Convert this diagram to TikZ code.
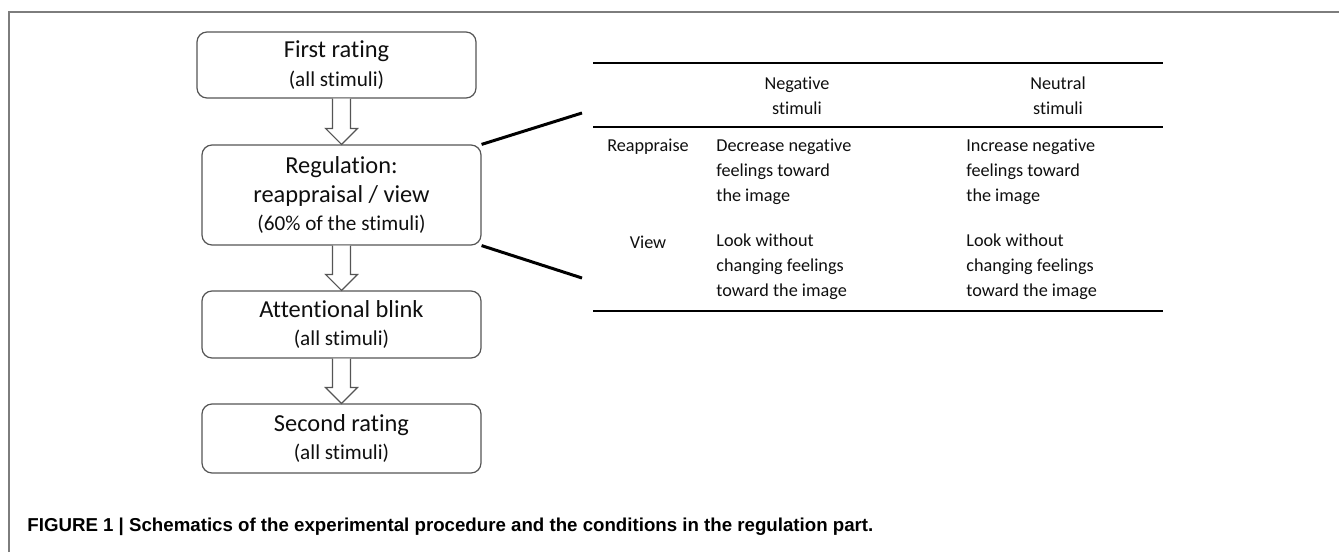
\documentclass[tikz,border=0pt]{standalone}
\usepackage{fontspec}
\setmainfont{Carlito}[Ligatures=NoCommon]
\newfontfamily\CaptionFont{Liberation Sans}
\usepackage{tikz}
\usetikzlibrary{calc}
\usepackage{xcolor}
\definecolor{ColBox}{RGB}{85,85,85}
\definecolor{ColFrame}{RGB}{125,125,125}
\definecolor{ColText}{RGB}{15,15,15}
\newcommand{\SmallLine}{\fontsize{10.6}{12.8}\selectfont}
\tikzstyle{StepBox}=[rectangle,rounded corners=5pt,draw=ColBox,line width=.6pt,
minimum width=139.5pt,inner sep=0pt,align=center,text=ColText,
font=\fontsize{12.2}{14.2}\selectfont]
\tikzstyle{BlockArrow}=[draw=ColBox,line width=.6pt,fill=white,line join=miter]
\tikzstyle{TableCell}=[inner sep=0pt,text=ColText,font=\fontsize{9.1}{12.5}\selectfont]
\tikzstyle{TableRule}=[black,line width=1pt]
\tikzstyle{ZoomLine}=[black,line width=1.5pt]
\tikzstyle{FrameLine}=[ColFrame,line width=.75pt]
\newcommand{\DownArrow}[2]{%
  \draw[BlockArrow] let \p1=(#1.south),\p2=(#2.north) in
    (\x2-4.5pt,\y1)--(\x2-4.5pt,\y2+8pt)--(\x2-8pt,\y2+8pt)--(\x2,\y2)
    --(\x2+8pt,\y2+8pt)--(\x2+4.5pt,\y2+8pt)--(\x2+4.5pt,\y1);}

\begin{document}
\begin{tikzpicture}[x=.5pt,y=-.5pt]
        \useasboundingbox(0,0)rectangle(1339,552);
        \draw[FrameLine](9,552)--(9,12)--(1339,12);
        % procedure
        \node[StepBox,minimum height=33pt](first)at(336.5,65){First rating\\{\SmallLine(all stimuli)}};
        \node[StepBox,minimum height=50pt](reg)at(341.5,195){Regulation:\\reappraisal / view\\{\SmallLine(60\% of the stimuli)}};
        \node[StepBox,minimum height=33.5pt](blink)at(341.5,324.5){Attentional blink\\{\SmallLine(all stimuli)}};
        \node[StepBox,minimum height=34.5pt](second)at(341.5,438.5){Second rating\\{\SmallLine(all stimuli)}};
        \DownArrow{first}{reg}
        \DownArrow{reg}{blink}
        \DownArrow{blink}{second}
        % conditions table
        \coordinate(ruleTopL)at(593,63);
        \coordinate(ruleTopR)at(1163,63);
        \coordinate(ruleMidL)at(593,127);
        \coordinate(ruleMidR)at(1163,127);
        \coordinate(ruleBotL)at(593,311);
        \coordinate(ruleBotR)at(1163,311);
        \draw[TableRule](ruleTopL)--(ruleTopR);
        \draw[TableRule](ruleMidL)--(ruleMidR);
        \draw[TableRule](ruleBotL)--(ruleBotR);
        \node[TableCell,align=center](hNeg)at(797,95.5){Negative\\stimuli};
        \node[TableCell,align=center](hNeu)at(1058,95.5){Neutral\\stimuli};
        \node[TableCell](rReap)at(648,147){Reappraise};
        \node[TableCell](rView)at(648,242){View};
        \node[TableCell,align=left,anchor=west](cReapNeg)at(716,172){Decrease negative\\feelings toward\\the image};
        \node[TableCell,align=left,anchor=west](cReapNeu)at(966,172){Increase negative\\feelings toward\\the image};
        \node[TableCell,align=left,anchor=west](cViewNeg)at(716,267){Look without\\changing feelings\\toward the image};
        \node[TableCell,align=left,anchor=west](cViewNeu)at(966,267){Look without\\changing feelings\\toward the image};
        \coordinate(zoomTop)at(582,113);
        \coordinate(zoomBot)at(582,278);
        \draw[ZoomLine](reg.north east)--(zoomTop);
        \draw[ZoomLine](reg.south east)--(zoomBot);
        % caption
        \node[inner sep=0pt,anchor=base west,font=\CaptionFont\bfseries\fontsize{9.34}{11}\selectfont](caption)at(27,531){FIGURE 1 | Schematics of the experimental procedure and the conditions in the regulation part.};
    \end{tikzpicture}
\end{document}
